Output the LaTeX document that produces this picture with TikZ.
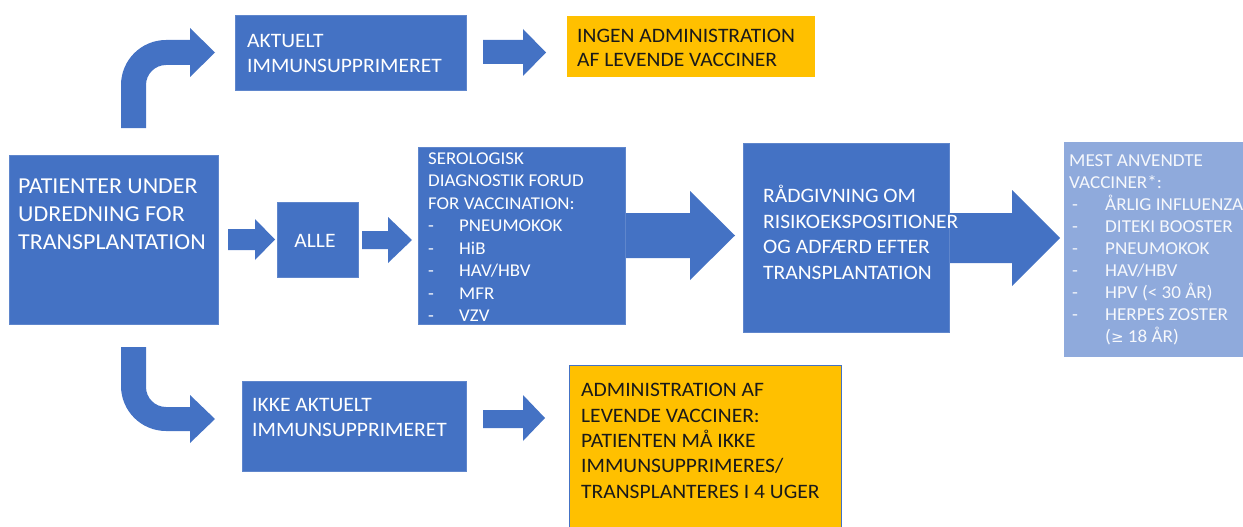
\documentclass[tikz,border=0pt]{standalone}
\usepackage{fontspec}
\setmainfont{Carlito}[FakeStretch=1.05]
\newfontfamily\symf{DejaVu Sans}
\definecolor{pblue}{HTML}{4472C4}
\definecolor{lblue}{HTML}{8FAADC}
\definecolor{porange}{HTML}{FFC000}
\definecolor{pedge}{HTML}{5F86CC}
\definecolor{dtext}{HTML}{1A1A1A}
\begin{document}
\begin{tikzpicture}[x=1pt,y=-1pt,
  box/.style={rectangle, draw=pedge, line width=0.6pt, fill=pblue, inner sep=0pt, anchor=north west},
  obox/.style={rectangle, draw=none, fill=porange, inner sep=0pt, anchor=north west},
  lbox/.style={rectangle, draw=none, fill=lblue, inner sep=0pt, anchor=north west},
  txt/.style={anchor=north west, inner sep=0pt, align=left, text=white},
  dtxt/.style={txt, text=dtext},
  barrow/.style={fill=pblue, draw=none}]
\useasboundingbox (0,0) rectangle (1243,527);

% block arrows (drawn first, text may lie over them)
\fill[barrow] (121,128) -- (121,85) .. controls (121,60.2) and (141.2,40) .. (166,40) -- (190,40) -- (190,28) -- (215,52.5) -- (190,77) -- (190,65) -- (166,65) .. controls (155,65) and (146,74) .. (146,85) -- (146,128) -- cycle;
\fill[barrow] (121,347) -- (121,386) .. controls (121,410.8) and (141.2,431) .. (166,431) -- (190,431) -- (190,443) -- (215,419) -- (190,395) -- (190,407) -- (166,407) .. controls (155,407) and (146,398) .. (146,387) -- (146,347) -- cycle;
\fill[barrow] (228,229) -- (255,229) -- (255,219) -- (275,239.5) -- (255,260) -- (255,250) -- (228,250) -- cycle;
\fill[barrow] (362,231) -- (388,231) -- (388,217) -- (412,240) -- (388,263) -- (388,249) -- (362,249) -- cycle;
\fill[barrow] (620,213) -- (690,213) -- (690,191) -- (735,235.5) -- (690,280) -- (690,258) -- (620,258) -- cycle;
\fill[barrow] (945,213) -- (1012,213) -- (1012,190) -- (1060,238) -- (1012,286) -- (1012,263) -- (945,263) -- cycle;
\fill[barrow] (483,40) -- (523,40) -- (523,29) -- (546,52.5) -- (523,76) -- (523,64) -- (483,64) -- cycle;
\fill[barrow] (483,410) -- (523,410) -- (523,395) -- (545,418) -- (523,441) -- (523,428) -- (483,428) -- cycle;

% boxes
\node[box, minimum width=209pt, minimum height=169pt] (pat) at (9,155) {};
\node[box, minimum width=231pt, minimum height=75pt] (akt) at (235,15) {};
\node[obox, minimum width=248pt, minimum height=61pt] (ingen) at (567,16) {};
\node[box, minimum width=81pt, minimum height=75pt] (alle) at (277,202) {};
\node[box, minimum width=207pt, minimum height=177pt] (sero) at (418,147) {};
\node[box, minimum width=206pt, minimum height=189pt] (rad) at (743,143) {};
\node[lbox, minimum width=185pt, minimum height=215pt] (mest) at (1064,142) {};
\node[box, minimum width=224pt, minimum height=90pt] (ikke) at (242,381) {};
\node[obox, draw=pblue, line width=0.8pt, minimum width=272pt, minimum height=170pt] (adm) at (569,365) {};

% texts
\node[txt, font=\fontsize{22.8}{28}\selectfont] (pat-t) at (18,173.4)
  {\strut PATIENTER UNDER\\UDREDNING FOR\\TRANSPLANTATION};
\node[txt, font=\fontsize{20.5}{25}\selectfont] (akt-t) at (247,29.5)
  {\strut AKTUELT\\IMMUNSUPPRIMERET};
\node[dtxt, font=\fontsize{20.5}{24.5}\selectfont] (ingen-t) at (577,24.85)
  {\strut INGEN ADMINISTRATION\\AF LEVENDE VACCINER};
\node[txt, font=\fontsize{20.5}{25}\selectfont, anchor=base] (alle-t) at (315,247) {ALLE};
\node[txt, font=\fontsize{18}{22.5}\selectfont] (sero-t) at (428,148.25)
  {\strut SEROLOGISK\\DIAGNOSTIK FORUD\\FOR VACCINATION:\\
   \makebox[31pt][l]{-}PNEUMOKOK\\\makebox[31pt][l]{-}HiB\\\makebox[31pt][l]{-}HAV/HBV\\
   \makebox[31pt][l]{-}MFR\\\makebox[31pt][l]{-}VZV};
\node[txt, font=\fontsize{20.5}{25.5}\selectfont] (rad-t) at (763,184.6)
  {\strut RÅDGIVNING OM\\RISIKOEKSPOSITIONER\\OG ADFÆRD EFTER\\TRANSPLANTATION};
\node[txt, text=white!92!lblue, font=\fontsize{18.2}{22.1}\selectfont] (mest-t) at (1069,150.5)
  {\strut MEST ANVENDTE\\VACCINER*:\\
   \makebox[36pt][l]{\hspace{3pt}-}ÅRLIG INFLUENZA\\\makebox[36pt][l]{\hspace{3pt}-}DITEKI BOOSTER\\
   \makebox[36pt][l]{\hspace{3pt}-}PNEUMOKOK\\\makebox[36pt][l]{\hspace{3pt}-}HAV/HBV\\
   \makebox[36pt][l]{\hspace{3pt}-}HPV (< 30 ÅR)\\\makebox[36pt][l]{\hspace{3pt}-}HERPES ZOSTER\\
   \makebox[36pt][l]{}({\symf\fontsize{15}{22.1}\selectfont ≥} 18 ÅR)};
\node[txt, font=\fontsize{20.5}{25.5}\selectfont] (ikke-t) at (252,393.2)
  {\strut IKKE AKTUELT\\IMMUNSUPPRIMERET};
\node[dtxt, font=\fontsize{20.5}{25.3}\selectfont] (adm-t) at (581,379)
  {\strut ADMINISTRATION AF\\LEVENDE VACCINER:\\PATIENTEN MÅ IKKE\\IMMUNSUPPRIMERES/\\TRANSPLANTERES I 4 UGER};
\end{tikzpicture}
\end{document}
